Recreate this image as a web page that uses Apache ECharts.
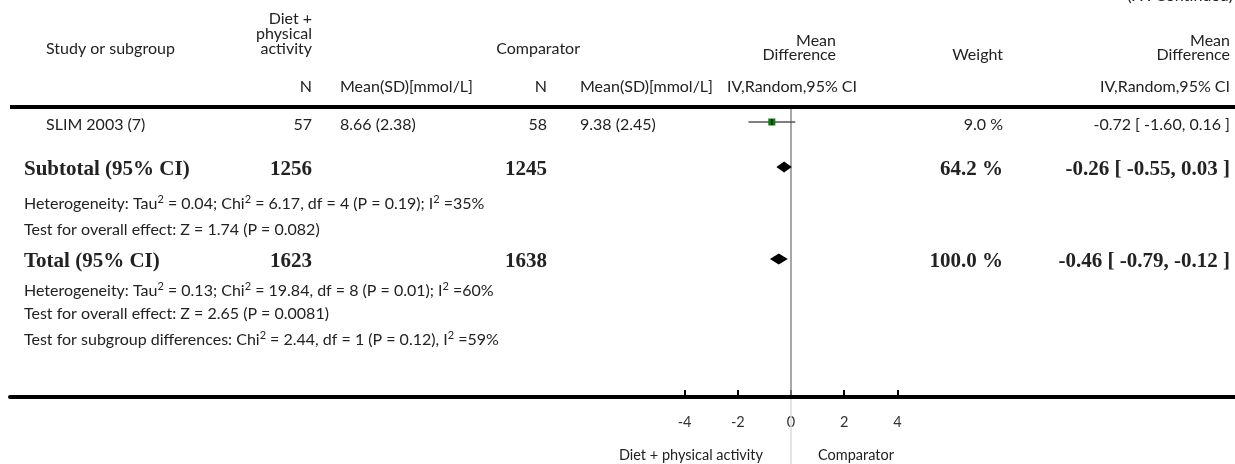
<!DOCTYPE html>
<html><head><meta charset="utf-8">
<script src="https://cdn.jsdelivr.net/npm/echarts@6/dist/echarts.min.js"></script>
<style>html,body{margin:0;padding:0;background:#fff}#c{width:1235px;height:464px}</style>
</head><body><div id="c"></div>
<script>
// ---------------- data ----------------
const studyNames = ['SLIM 2003 (7)'];
const expN = [57];
const expMean = [8.66];
const expSD = [2.38];
const ctrlN = [58];
const ctrlMean = [9.38];
const ctrlSD = [2.45];
const studyMD = [-0.72];
const studyLo = [-1.60];
const studyHi = [0.16];
const studyWeight = [9.0];

const pooledNames = ['Subtotal (95% CI)', 'Total (95% CI)'];
const pooledExpN = [1256, 1623];
const pooledCtrlN = [1245, 1638];
const pooledWeight = [64.2, 100.0];
const pooledMD = [-0.26, -0.46];
const pooledLo = [-0.55, -0.79];
const pooledHi = [0.03, -0.12];

const subtotalNotes = [
  'Heterogeneity: Tau\u00B2 = 0.04; Chi\u00B2 = 6.17, df = 4 (P = 0.19); I\u00B2 =35%',
  'Test for overall effect: Z = 1.74 (P = 0.082)'
];
const totalNotes = [
  'Heterogeneity: Tau\u00B2 = 0.13; Chi\u00B2 = 19.84, df = 8 (P = 0.01); I\u00B2 =60%',
  'Test for overall effect: Z = 2.65 (P = 0.0081)',
  'Test for subgroup differences: Chi\u00B2 = 2.44, df = 1 (P = 0.12), I\u00B2 =59%'
];

const axisTicks = [-4, -2, 0, 2, 4];
const favoursLeft = 'Diet + physical activity';
const favoursRight = 'Comparator';
const continuedText = '(. . . Continued)';

// ---------------- layout ----------------
const W = 1235, H = 464;
const COL = {note: 24, study: 46, expN: 312, expMean: 340, cmpHead: 580, ctrlN: 547, ctrlMean: 580,
             mdHead: 836, ivHead: 857, weight: 1003, ci: 1230};
const HEAD_Y = {diet: 19, phys: 34, act: 49, mean: 41, diff: 55, nrow: 87};
const STUDY_Y = [125];
const POOLED_Y = [170, 262];
const SUB_NOTE_Y = [204, 230];
const TOT_NOTE_Y = [291, 314, 340];
const TOP = 107, AXIS_Y = 397;
const ZERO_X = 791, PX_PER_UNIT = 26.6;
const LINE_LEFT = 10;

const FONT = '16px Lato, "Open Sans", sans-serif';
const SMALL = '14.5px Lato, "Open Sans", sans-serif';
const BOLD = 'bold 21px "Liberation Serif", "DejaVu Serif", serif';
const TXT = '#222';

function txt(x, y, text, align, font) {
  return {type: 'text', x: x, y: y, silent: true,
    style: {text: text, fill: TXT, font: font || FONT, textAlign: align || 'left', textVerticalAlign: 'middle'}};
}
function noteTxt(x, y, text) {
  const el = txt(x, y, text.replace(/\u00B2/g, '{sup|2}'), 'left');
  el.style.rich = {sup: {fontSize: 11, fontFamily: 'Lato, "Open Sans", sans-serif', fill: TXT, padding: [0, 0, 9, 0]}};
  return el;
}
const f2 = v => v.toFixed(2);
const ciText = (m, l, h) => f2(m) + ' [ ' + f2(l) + ', ' + f2(h) + ' ]';

const graphics = [];
graphics.push(txt(W - 2, -4, continuedText, 'right'));
graphics.push(txt(COL.expN, HEAD_Y.diet, 'Diet +', 'right'));
graphics.push(txt(COL.expN, HEAD_Y.phys, 'physical', 'right'));
graphics.push(txt(COL.expN, HEAD_Y.act, 'activity', 'right'));
graphics.push(txt(COL.study, HEAD_Y.act, 'Study or subgroup', 'left'));
graphics.push(txt(COL.cmpHead, HEAD_Y.act, 'Comparator', 'right'));
graphics.push(txt(COL.mdHead, HEAD_Y.mean, 'Mean', 'right'));
graphics.push(txt(COL.mdHead, HEAD_Y.diff, 'Difference', 'right'));
graphics.push(txt(COL.weight, HEAD_Y.diff, 'Weight', 'right'));
graphics.push(txt(COL.ci, HEAD_Y.mean, 'Mean', 'right'));
graphics.push(txt(COL.ci, HEAD_Y.diff, 'Difference', 'right'));
graphics.push(txt(COL.expN, HEAD_Y.nrow, 'N', 'right'));
graphics.push(txt(COL.expMean, HEAD_Y.nrow, 'Mean(SD)[mmol/L]', 'left'));
graphics.push(txt(COL.ctrlN, HEAD_Y.nrow, 'N', 'right'));
graphics.push(txt(COL.ctrlMean, HEAD_Y.nrow, 'Mean(SD)[mmol/L]', 'left'));
graphics.push(txt(COL.ivHead, HEAD_Y.nrow, 'IV,Random,95% CI', 'right'));
graphics.push(txt(COL.ci, HEAD_Y.nrow, 'IV,Random,95% CI', 'right'));
graphics.push({type: 'rect', silent: true, shape: {x: LINE_LEFT, y: TOP - 2, width: W - LINE_LEFT, height: 4}, style: {fill: '#000'}});

studyNames.forEach((n, i) => {
  const y = STUDY_Y[i];
  graphics.push(txt(COL.study, y, n, 'left'));
  graphics.push(txt(COL.expN, y, String(expN[i]), 'right'));
  graphics.push(txt(COL.expMean, y, f2(expMean[i]) + ' (' + f2(expSD[i]) + ')', 'left'));
  graphics.push(txt(COL.ctrlN, y, String(ctrlN[i]), 'right'));
  graphics.push(txt(COL.ctrlMean, y, f2(ctrlMean[i]) + ' (' + f2(ctrlSD[i]) + ')', 'left'));
  graphics.push(txt(COL.weight, y, studyWeight[i].toFixed(1) + ' %', 'right'));
  graphics.push(txt(COL.ci, y, ciText(studyMD[i], studyLo[i], studyHi[i]), 'right'));
});
pooledNames.forEach((n, i) => {
  const y = POOLED_Y[i];
  graphics.push(txt(COL.note, y, n, 'left', BOLD));
  graphics.push(txt(COL.expN, y, String(pooledExpN[i]), 'right', BOLD));
  graphics.push(txt(COL.ctrlN, y, String(pooledCtrlN[i]), 'right', BOLD));
  graphics.push(txt(COL.weight, y, pooledWeight[i].toFixed(1) + ' %', 'right', BOLD));
  graphics.push(txt(COL.ci, y, ciText(pooledMD[i], pooledLo[i], pooledHi[i]), 'right', BOLD));
});
subtotalNotes.forEach((t, i) => graphics.push(noteTxt(COL.note, SUB_NOTE_Y[i], t)));
totalNotes.forEach((t, i) => graphics.push(noteTxt(COL.note, TOT_NOTE_Y[i], t)));

// ---------------- chart ----------------
const chart = echarts.init(document.getElementById('c'), null, {renderer: 'canvas'});
const xMin = (LINE_LEFT - ZERO_X) / PX_PER_UNIT;
const xMax = (W - ZERO_X) / PX_PER_UNIT;

const studyData = studyNames.map((n, i) => [studyLo[i], studyHi[i], studyMD[i], STUDY_Y[i] - 3]);
const pooledData = pooledNames.map((n, i) => [pooledLo[i], pooledHi[i], pooledMD[i], POOLED_Y[i] - 3]);

chart.setOption({
  animation: false,
  backgroundColor: '#fff',
  grid: {left: LINE_LEFT, right: 0, top: TOP, bottom: H - AXIS_Y, containLabel: false},
  xAxis: {
    type: 'value', min: xMin, max: xMax,
    splitLine: {show: false},
    axisLine: {show: true, onZero: false, lineStyle: {color: '#000', width: 4}},
    axisTick: {show: true, inside: true, length: 7, customValues: axisTicks, lineStyle: {color: '#000', width: 2}},
    axisLabel: {show: true, margin: 18, customValues: axisTicks, color: '#333',
      fontFamily: 'Lato, "Open Sans", sans-serif', fontSize: 14.5}
  },
  yAxis: {type: 'value', min: TOP, max: AXIS_Y, inverse: true, show: false},
  graphic: graphics.concat([
    txt(ZERO_X - 28, 455, favoursLeft, 'right', SMALL),
    txt(ZERO_X + 27, 455, favoursRight, 'left', SMALL)
  ]),
  series: [
    {
      type: 'custom', clip: false, silent: true, z: 1,
      data: [[0]],
      renderItem: function (params, api) {
        const a = api.coord([api.value(0), TOP]);
        const b = api.coord([api.value(0), AXIS_Y]);
        return {type: 'group', children: [
          {type: 'line', shape: {x1: a[0], y1: a[1] + 2, x2: b[0], y2: b[1] - 2}, style: {stroke: '#8a8a8a', lineWidth: 1.5}},
          {type: 'line', shape: {x1: b[0], y1: b[1] + 2, x2: b[0], y2: api.getHeight()}, style: {stroke: '#dddddd', lineWidth: 1.5}}
        ]};
      }
    },
    {
      type: 'custom', clip: false, silent: true, z: 3,
      data: studyData,
      renderItem: function (params, api) {
        const lo = api.coord([api.value(0), api.value(3)]);
        const hi = api.coord([api.value(1), api.value(3)]);
        const c = api.coord([api.value(2), api.value(3)]);
        const s = 7;
        return {type: 'group', children: [
          {type: 'line', shape: {x1: lo[0], y1: lo[1], x2: hi[0], y2: hi[1]}, style: {stroke: '#555', lineWidth: 1.5}},
          {type: 'rect', shape: {x: c[0] - s / 2, y: c[1] - s / 2, width: s, height: s}, style: {fill: '#0a7a0a'}},
          {type: 'line', shape: {x1: c[0], y1: c[1] - 3, x2: c[0], y2: c[1] + 3}, style: {stroke: '#000', lineWidth: 1}}
        ]};
      }
    },
    {
      type: 'custom', clip: false, silent: true, z: 3,
      data: pooledData,
      renderItem: function (params, api) {
        const lo = api.coord([api.value(0), api.value(3)]);
        const hi = api.coord([api.value(1), api.value(3)]);
        const c = api.coord([api.value(2), api.value(3)]);
        const h = 5.5;
        return {type: 'polygon', shape: {points: [[lo[0], lo[1]], [c[0], c[1] - h], [hi[0], hi[1]], [c[0], c[1] + h]]},
          style: {fill: '#000'}};
      }
    }
  ]
});
</script></body></html>
